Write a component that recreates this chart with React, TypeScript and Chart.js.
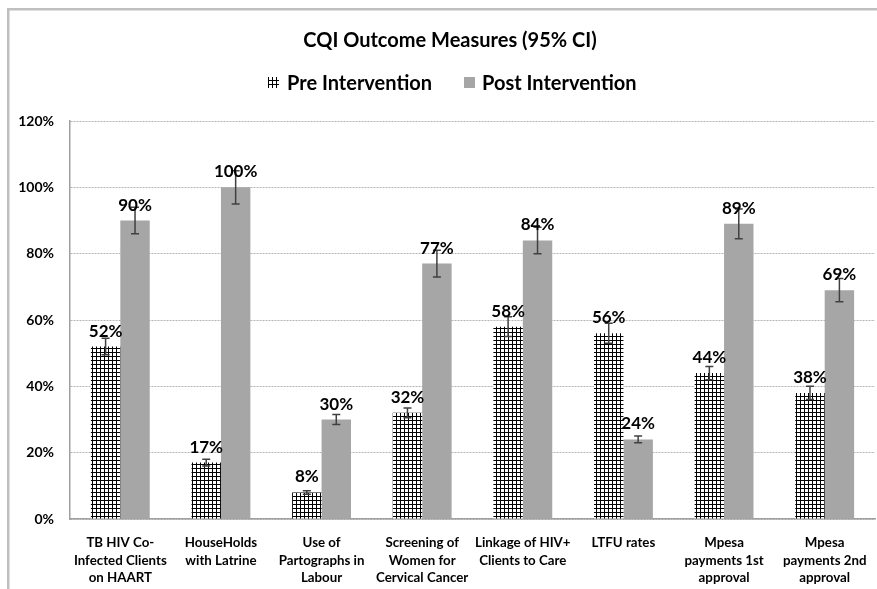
import React, { useEffect, useRef } from "react";
import { Chart, registerables } from "chart.js";

Chart.register(...registerables);

const chartTitle = "CQI Outcome Measures (95% CI)";
const seriesNames = ["Pre Intervention", "Post Intervention"];
const categories: string[][] = [
  ["TB HIV Co-", "Infected Clients", "on HAART"],
  ["HouseHolds", "with Latrine"],
  ["Use of", "Partographs in", "Labour"],
  ["Screening of", "Women for", "Cervical Cancer"],
  ["Linkage of HIV+", "Clients to Care"],
  ["LTFU rates"],
  ["Mpesa", "payments 1st", "approval"],
  ["Mpesa", "payments 2nd", "approval"],
];
const preValues = [52, 17, 8, 32, 58, 56, 44, 38];
const postValues = [90, 100, 30, 77, 84, 24, 89, 69];
const preErrors = [2.5, 1, 0.5, 1.5, 3, 3, 2, 2];
const postErrors = [4, 5, 1.5, 4, 4, 1, 4.5, 3.5];
const yMin = 0;
const yMax = 120;
const yStep = 20;

const FONT = "Lato, 'Open Sans', sans-serif";
const POST_COLOR = "#a6a6a6";

function makePattern(ctx: CanvasRenderingContext2D): CanvasPattern | string {
  const c = document.createElement("canvas");
  c.width = 4;
  c.height = 4;
  const p = c.getContext("2d");
  if (!p) return "#000";
  p.fillStyle = "#ffffff";
  p.fillRect(0, 0, 4, 4);
  p.fillStyle = "#000000";
  p.fillRect(0, 0, 1, 4);
  p.fillRect(0, 0, 4, 1);
  return ctx.createPattern(c, "repeat") || "#000";
}

export default function App() {
  const ref = useRef<HTMLCanvasElement | null>(null);

  useEffect(() => {
    const canvas = ref.current;
    if (!canvas) return;
    const ctx = canvas.getContext("2d");
    if (!ctx) return;
    const pattern = makePattern(ctx);
    const errors = [preErrors, postErrors];

    const decorPlugin = {
      id: "decor",
      beforeDraw(chart: any) {
        const c = chart.ctx;
        c.save();
        c.fillStyle = "#ffffff";
        c.fillRect(0, 0, chart.width, chart.height);
        c.fillStyle = "#bfbfbf";
        c.fillRect(7, 8, chart.width - 7, 2.5);
        c.fillRect(7, 8, 2.5, chart.height - 8);
        // title
        c.fillStyle = "#000";
        c.font = `bold 20px ${FONT}`;
        c.textAlign = "center";
        c.textBaseline = "middle";
        c.fillText(chartTitle, 450, 41);
        // legend
        c.font = `bold 20px ${FONT}`;
        c.textAlign = "left";
        c.fillStyle = pattern;
        c.fillRect(268, 77, 11, 11);
        c.fillStyle = "#000";
        c.fillText(seriesNames[0], 287, 84);
        c.fillStyle = POST_COLOR;
        c.fillRect(464, 77, 11, 11);
        c.fillStyle = "#000";
        c.fillText(seriesNames[1], 482, 84);
        c.restore();
      },
      afterDatasetsDraw(chart: any) {
        const c = chart.ctx;
        const yScale = chart.scales.y;
        c.save();
        chart.data.datasets.forEach((ds: any, di: number) => {
          const meta = chart.getDatasetMeta(di);
          meta.data.forEach((bar: any, i: number) => {
            const v = ds.data[i];
            const e = errors[di][i];
            const x = bar.x;
            const yt = yScale.getPixelForValue(v + e);
            const yb = yScale.getPixelForValue(v - e);
            c.strokeStyle = "#404040";
            c.lineWidth = 1.5;
            c.beginPath();
            c.moveTo(x, yt);
            c.lineTo(x, yb);
            c.moveTo(x - 4, yt);
            c.lineTo(x + 4, yt);
            c.moveTo(x - 4, yb);
            c.lineTo(x + 4, yb);
            c.stroke();
          });
        });
        c.fillStyle = "#000";
        c.font = `bold 17px ${FONT}`;
        c.textAlign = "center";
        c.textBaseline = "alphabetic";
        chart.data.datasets.forEach((ds: any, di: number) => {
          const meta = chart.getDatasetMeta(di);
          meta.data.forEach((bar: any, i: number) => {
            c.fillText(`${ds.data[i]}%`, bar.x, bar.y - 10);
          });
        });
        c.restore();
      },
    };

    const chart = new Chart(canvas, {
      type: "bar",
      data: {
        labels: categories,
        datasets: [
          {
            label: seriesNames[0],
            data: preValues,
            backgroundColor: pattern as any,
            borderWidth: 0,
          },
          {
            label: seriesNames[1],
            data: postValues,
            backgroundColor: POST_COLOR,
            borderWidth: 0,
          },
        ],
      },
      options: {
        animation: false,
        responsive: false,
        maintainAspectRatio: false,
        layout: { autoPadding: false, padding: { top: 121, left: 0, right: 2, bottom: 0 } },
        datasets: { bar: { categoryPercentage: 0.585, barPercentage: 1 } },
        plugins: {
          legend: { display: false },
          title: { display: false },
          tooltip: { enabled: false },
        },
        scales: {
          x: {
            grid: { display: false, drawTicks: false },
            border: { display: true, color: "#a0a0a0", width: 1.5 },
            ticks: {
              color: "#000",
              padding: 15,
              maxRotation: 0,
              autoSkip: false,
              font: { family: FONT, weight: "bold", size: 13.3, lineHeight: 1.32 },
            },
            afterFit(scale: any) {
              scale.height = 70;
              scale.paddingLeft = 0;
              scale.paddingRight = 0;
            },
          },
          y: {
            min: yMin,
            max: yMax,
            ticks: {
              stepSize: yStep,
              color: "#000",
              padding: 16,
              font: { family: FONT, weight: "bold", size: 14 },
              callback: (v: any) => `${v}%`,
            },
            grid: { color: "#b5b5b5", lineWidth: 1, drawTicks: false },
            border: { display: true, color: "#a0a0a0", width: 1.5, dash: [2, 1] },
            afterFit(scale: any) {
              scale.width = 70;
            },
          },
        },
      },
      plugins: [decorPlugin],
    });
    return () => chart.destroy();
  }, []);

  return (
    <div style={{ position: "fixed", left: 0, top: 0, width: 877, height: 589, background: "#fff" }}>
      <canvas ref={ref} width={877} height={589} style={{ display: "block", width: 877, height: 589 }} />
    </div>
  );
}
